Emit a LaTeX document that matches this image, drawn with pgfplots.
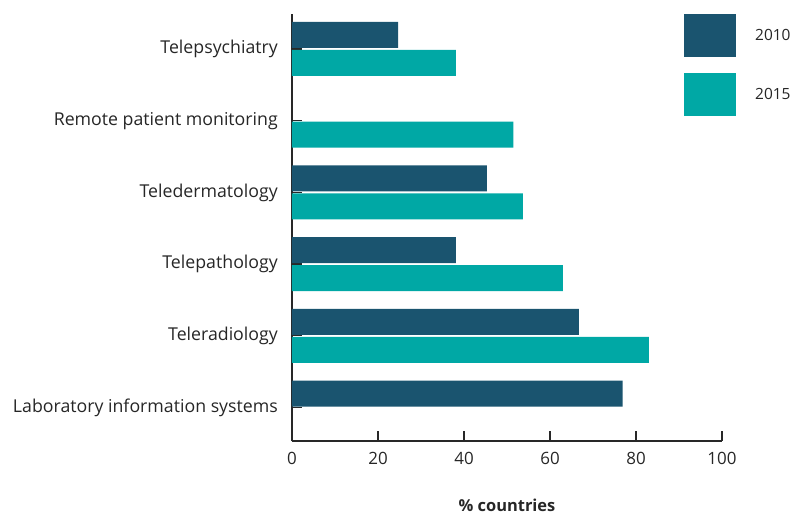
\documentclass[border=0pt]{standalone}
\usepackage{pgfplots}
\pgfplotsset{compat=1.18}
\usepackage{fontspec}
\setmainfont{Open Sans}
\definecolor{c2010}{RGB}{26,84,111}
\definecolor{c2015}{RGB}{0,168,165}
\definecolor{axc}{RGB}{40,40,40}
\begin{document}
\begin{tikzpicture}
\begin{axis}[
  scale only axis, width=430bp, height=427bp,
  xmin=0, xmax=100, ymin=-0.467, ymax=5.488,
  axis x line=bottom, axis y line=left,
  axis line style={-, line width=1.3bp, axc},
  xtick={0,20,...,100}, ytick={0,...,5},
  yticklabels={Laboratory information systems, Teleradiology, Telepathology, Teledermatology, Remote patient monitoring, Telepsychiatry},
  xtick align=inside, ytick align=inside, major tick length=10bp,
  tick style={line width=1.3bp, axc},
  /pgf/number format/assume math mode=true,
  xticklabel style={font=\fontsize{17}{17}\selectfont, text=black!85, anchor=center, yshift=-17.5bp},
  yticklabel style={font=\fontsize{17.8}{17.8}\selectfont, text=black!85, anchor=base east, inner sep=0pt, xshift=-14bp, yshift=-4.6bp},
  xlabel={\textbf{\% countries}},
  xlabel style={font=\fontsize{16.5}{16.5}\selectfont, text=black!85, at={(axis description cs:0.5,0)}, anchor=center, yshift=-64bp},
  legend style={at={(0.9116,1)}, anchor=north west, draw=none, fill=none, inner sep=0pt, row sep=16bp, column sep=19bp, font=\fontsize{15.5}{15.5}\selectfont, text=black!85, nodes={inner sep=0pt}},
  legend cell align=left,
  legend image code/.code={\fill[#1] (0bp,-21.5bp) rectangle (52bp,21.5bp);},
]
\addplot[xbar, bar width=26bp, fill=c2010, draw=none, bar shift=14bp] coordinates {
  (76.9,0) (66.7,1) (38.1,2) (45.3,3) (24.7,5)
};
\addlegendentry{2010}
\addplot[xbar, bar width=26bp, fill=c2015, draw=none, bar shift=-14bp] coordinates {
  (83.0,1) (63.0,2) (53.7,3) (51.5,4) (38.1,5)
};
\addlegendentry{2015}
\coordinate (O) at (rel axis cs:0,0);
\end{axis}
\pgfresetboundingbox
\path[use as bounding box] (O) ++(-292bp,-76bp) rectangle ++(796bp,517bp);
\end{tikzpicture}
\end{document}
